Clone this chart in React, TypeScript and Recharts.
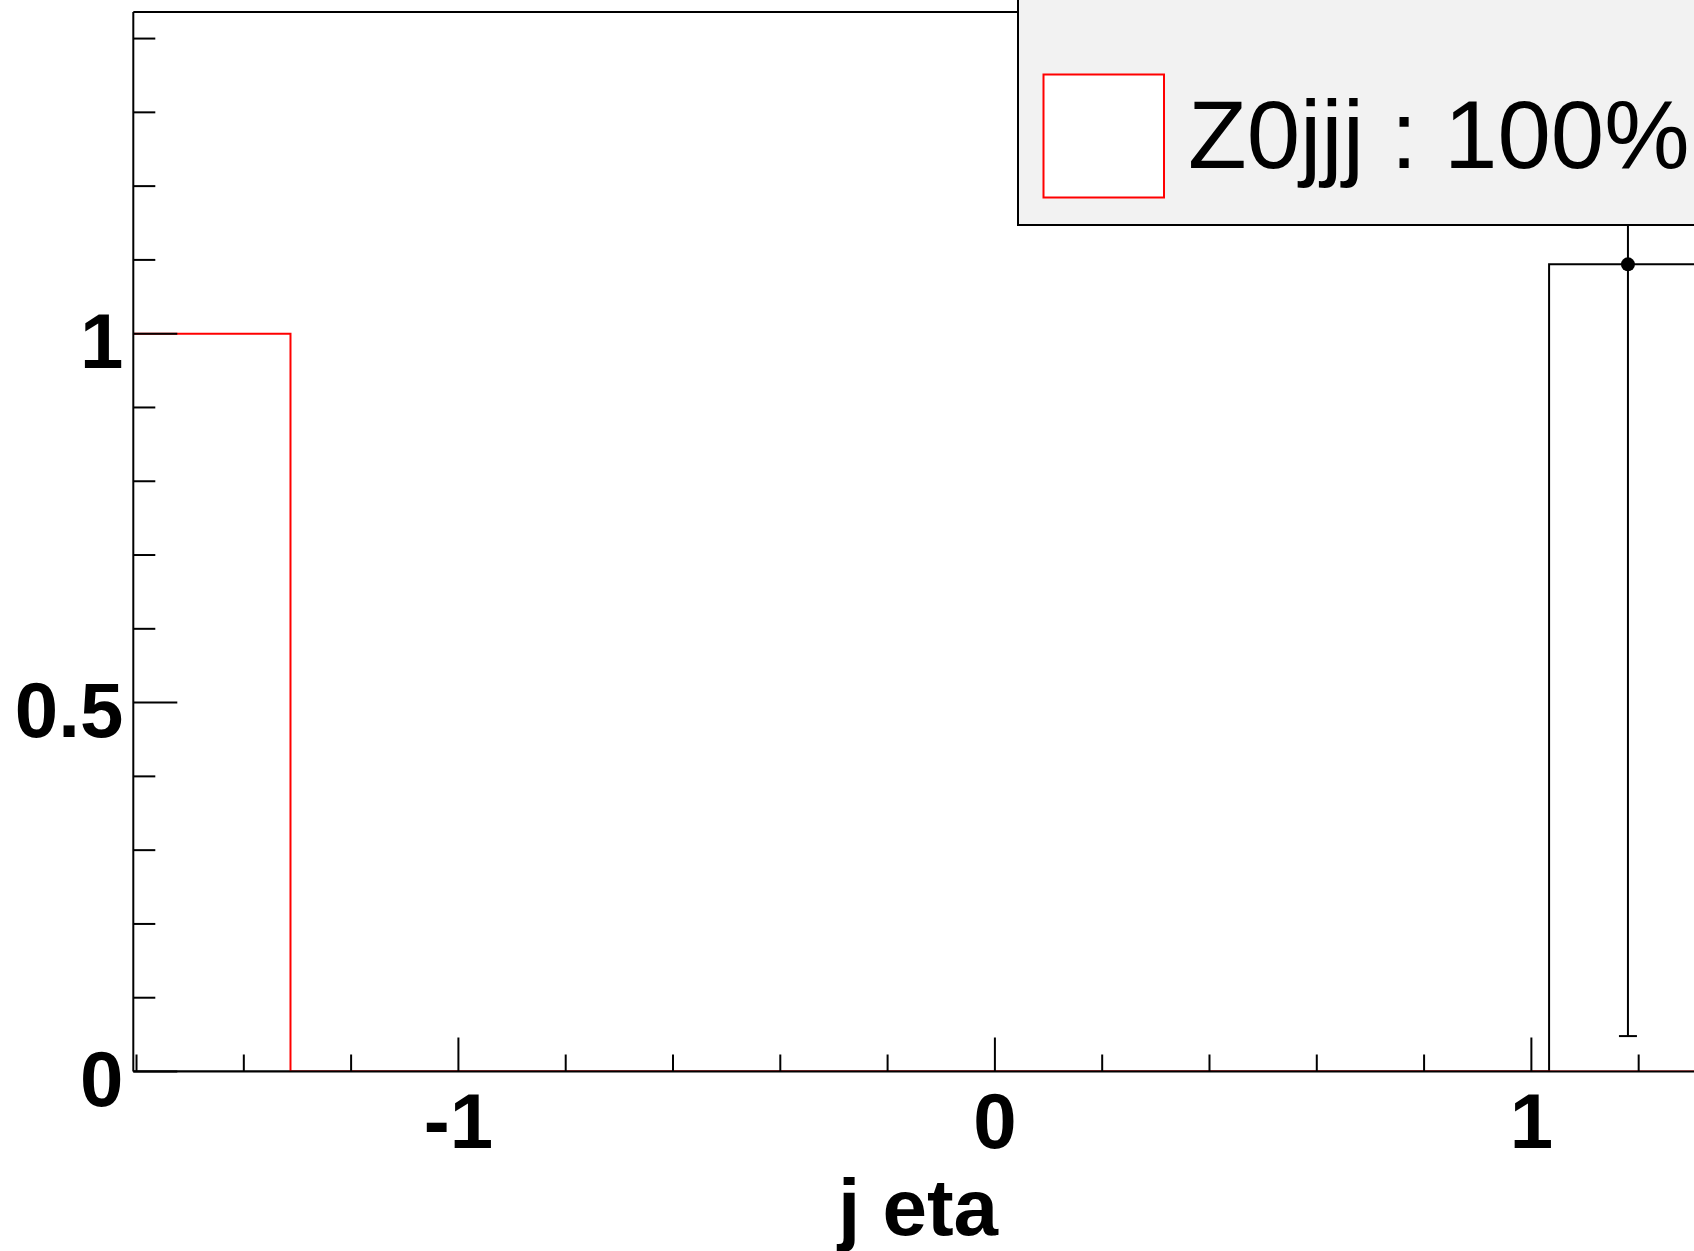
import {
  ComposedChart,
  Line,
  Scatter,
  ErrorBar,
  XAxis,
  YAxis,
  ReferenceLine,
} from "recharts";

// bin edges of the histograms (j eta)
const X_EDGES = [-1.606, -1.313, -1.019, -0.726, -0.433, -0.14, 0.154, 0.447, 0.74, 1.033, 1.327, 1.62];
// Z0jjj (red outline) and data (black outline) contents per bin
const MC_COUNTS = [1, 0, 0, 0, 0, 0, 0, 0, 0, 0, 0];
const DATA_COUNTS = [0, 0, 0, 0, 0, 0, 0, 0, 0, 1.094, 0];
// data point with error
const POINT_X = [1.18];
const POINT_Y = [1.094];
const POINT_ERR = [1.046];

const X_TICKS = [-1.6, -1.4, -1.2, -1, -0.8, -0.6, -0.4, -0.2, 0, 0.2, 0.4, 0.6, 0.8, 1, 1.2, 1.4, 1.6];
const X_MAJOR = [-1, 0, 1];
const Y_TICKS = [0, 0.1, 0.2, 0.3, 0.4, 0.5, 0.6, 0.7, 0.8, 0.9, 1, 1.1, 1.2, 1.3, 1.4];
const Y_MAJOR = [0, 0.5, 1];

const X_TITLE = "j eta";
const LEGEND_LABEL = "Z0jjj : 100%";

const FONT = "'Liberation Sans', Arial, Helvetica, sans-serif";

// step data: last edge repeats the last bin value
const toSteps = (counts: number[]) =>
  X_EDGES.map((x, i) => ({ x, y: counts[Math.min(i, counts.length - 1)] }));

const mcSteps = toSteps(MC_COUNTS);
const dataSteps = toSteps(DATA_COUNTS);
const points = POINT_X.map((x, i) => ({
  x,
  y: POINT_Y[i],
  err: [POINT_ERR[i], POINT_ERR[i]],
}));

function XTick(props: any) {
  const { x, y, payload } = props;
  const major = X_MAJOR.includes(payload.value);
  return (
    <g>
      <line x1={x} x2={x} y1={y} y2={y - (major ? 34 : 17)} stroke="#000" strokeWidth={2} />
      {major && (
        <text
          x={x}
          y={y + 76}
          textAnchor="middle"
          fontFamily={FONT}
          fontWeight="bold"
          fontSize={78}
          fill="#000"
        >
          {String(payload.value)}
        </text>
      )}
    </g>
  );
}

function YTick(props: any) {
  const { x, y, payload } = props;
  const major = Y_MAJOR.includes(payload.value);
  return (
    <g>
      <line x1={x} x2={x + (major ? 44 : 22)} y1={y} y2={y} stroke="#000" strokeWidth={2} />
      {major && (
        <text
          x={x - 10}
          y={y + 34}
          textAnchor="end"
          fontFamily={FONT}
          fontWeight="bold"
          fontSize={78}
          fill="#000"
        >
          {String(payload.value)}
        </text>
      )}
    </g>
  );
}

export default function App() {
  return (
    <div
      style={{
        position: "fixed",
        left: 0,
        top: 0,
        width: 1694,
        height: 1251,
        overflow: "hidden",
        background: "#fff",
      }}
    >
      <ComposedChart
        width={1900}
        height={1251}
        margin={{ top: 12, right: 36, bottom: 0, left: 0 }}
      >
        <XAxis
          type="number"
          dataKey="x"
          domain={[-1.606, 1.62]}
          allowDataOverflow
          ticks={X_TICKS}
          interval={0}
          tickSize={0}
          tickMargin={0}
          tickLine={false}
          tick={(p: any) => <XTick {...p} />}
          axisLine={{ stroke: "#000", strokeWidth: 2 }}
          height={179.5}
        />
        <YAxis
          type="number"
          dataKey="y"
          domain={[0, 1.436]}
          allowDataOverflow
          ticks={Y_TICKS}
          interval={0}
          tickSize={0}
          tickMargin={0}
          tickLine={false}
          tick={(p: any) => <YTick {...p} />}
          axisLine={{ stroke: "#000", strokeWidth: 2 }}
          width={133.3}
        />
        <ReferenceLine y={1.436} stroke="#000" strokeWidth={2} />
        <Line
          data={dataSteps}
          dataKey="y"
          type="stepAfter"
          stroke="#000"
          strokeWidth={2}
          dot={false}
          isAnimationActive={false}
        />
        <Line
          data={mcSteps}
          dataKey="y"
          type="stepAfter"
          stroke="#ff0000"
          strokeWidth={2}
          dot={false}
          isAnimationActive={false}
        />
        <Scatter
          data={points}
          dataKey="y"
          fill="#000"
          isAnimationActive={false}
          shape={(p: any) => <circle cx={p.cx} cy={p.cy} r={7} fill="#000" />}
        >
          <ErrorBar
            dataKey="err"
            direction="y"
            width={9}
            stroke="#000"
            strokeWidth={2}
            isAnimationActive={false}
          />
        </Scatter>
      </ComposedChart>

      <svg
        width={1694}
        height={1251}
        style={{ position: "absolute", left: 0, top: 0, pointerEvents: "none" }}
      >
        <text
          x={838}
          y={1235}
          fontFamily={FONT}
          fontWeight="bold"
          fontSize={80}
          fill="#000"
        >
          {X_TITLE}
        </text>
        <rect x={1018} y={-100} width={800} height={325} fill="#f2f2f2" stroke="#000" strokeWidth={2} />
        <rect x={1043.5} y={74.5} width={120.5} height={123} fill="#fff" stroke="#ff0000" strokeWidth={2} />
        <text x={1188} y={168} fontFamily={FONT} fontSize={96} fill="#000">
          {LEGEND_LABEL}
        </text>
      </svg>
    </div>
  );
}
